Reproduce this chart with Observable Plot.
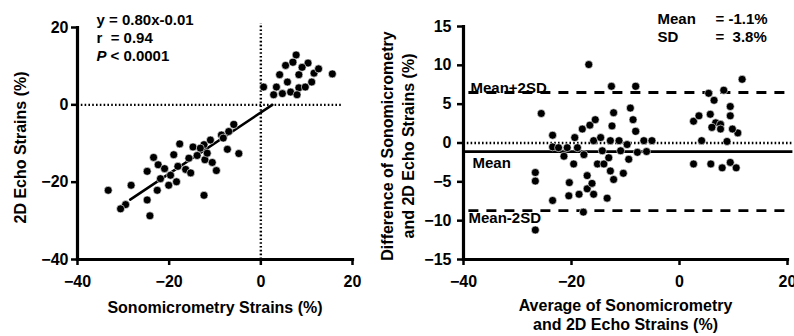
<!DOCTYPE html>
<html><head><meta charset="utf-8">
<script src="https://cdn.jsdelivr.net/npm/d3@7"></script>
<script src="https://cdn.jsdelivr.net/npm/@observablehq/plot@0.6"></script>
<style>
body{margin:0;background:#fff;}
#wrap{position:relative;display:flex;width:794px;height:336px;overflow:hidden;background:#fff;}
#wrap svg{flex:none;}
</style></head><body><div id="wrap"></div>
<script>
// ---- Left panel: 2D Echo vs Sonomicrometry ----
const sonoX = [-33.3,-28.3,-29.5,-24.8,-24.2,-23.4,-24.8,-22.4,-21.9,-22.6,-20.1,-19.7,-18.4,-19.0,-17.7,-18.1,-16.4,-15.3,-14.8,-15.7,-13.9,-12.4,-12.2,-11.0,-10.6,-9.7,-12.4,-8.6,-8.2,-7.3,-7.0,-5.9,-4.8,-11.7,-30.6,-13.2,-21.0,
  7.7,5.4,7.0,10.3,4.1,8.3,11.6,15.6,0.6,3.4,5.8,8.3,9.7,11.1,2.8,4.7,6.5,7.9,12.6,9.0];
const echoY = [-22.1,-20.8,-25.8,-24.6,-28.7,-13.6,-17.2,-15.5,-19.1,-22.1,-20.8,-18.2,-19.9,-12.9,-10.1,-15.9,-16.7,-17.6,-10.9,-13.8,-13.1,-10.3,-14.2,-9.1,-14.9,-17.0,-23.4,-7.8,-8.6,-11.5,-6.9,-5.1,-12.6,-12.5,-26.9,-11.2,-16.5,
  12.9,10.2,11.0,10.8,7.8,7.8,8.2,8.0,4.6,4.6,5.9,4.4,4.6,5.9,2.6,2.9,3.3,2.6,9.3,9.7];
const regX = [-28.5, 2.5];
const regY = [-24.5, 0];
const leftTicks = [-40, -20, 0, 20];
const leftStats = ["y = 0.80x-0.01", "r  = 0.94"];

// ---- Right panel: Bland-Altman ----
const avgX = [-16.8,-12.6,-8.1,11.6,8.2,6.4,5.4,-25.6,-23.5,-23.5,-26.7,-26.7,-26.7,-23.5,-17.8,-13.4,-20.4,-20.5,-18.6,-17.1,-15.9,-16.2,-17.1,-12.2,-10.4,-21.4,-20.8,-19.6,-18.9,-17.7,-18.0,-16.6,-15.6,-15.9,-14.6,-14.3,-15.2,-14.0,-12.8,-13.1,-12.8,-12.2,-12.5,-11.2,-10.9,-9.7,-9.1,-8.6,-8.1,-9.4,-7.8,-6.6,-6.1,-5.1,-19.4,-22.4,
  2.6,3.6,5.7,6.7,7.6,6.0,7.6,9.4,9.4,10.8,9.8,4.1,8.8,2.6,5.8,7.9,9.4,10.5];
const diffY = [10.1,7.3,7.3,8.2,6.8,5.5,6.4,3.8,1.0,-0.5,-3.8,-4.9,-11.2,-7.4,-8.9,-7.1,-5.1,-6.8,-6.6,-5.9,-6.6,-5.2,-4.2,-4.7,-3.9,-1.7,-0.6,-2.7,-0.6,-1.5,1.8,2.3,3.0,0.3,0.7,-1.0,-2.7,-2.7,0.3,-1.9,-3.6,3.9,2.2,0.3,-1.0,-0.2,4.5,3.0,1.5,-2.1,-1.2,0.3,-1.1,0.3,0.7,-0.6,
  2.8,3.5,3.7,2.6,2.4,2.0,1.8,4.7,3.5,1.3,1.8,0.3,0.2,-2.7,-2.7,-3.2,-2.5,-3.2];
const meanDiff = -1.1;
const sdDiff = 3.8;
const rightXTicks = [-40, -20, 0, 20];
const rightYTicks = [-15, -10, -5, 0, 5, 10, 15];
const refNames = ["Mean+2SD", "Mean", "Mean-2SD"];
const statNames = ["Mean", "SD"];
const statValues = ["= -1.1%", "=  3.8%"];

const FONT = "'Liberation Sans', Arial, sans-serif";
const baseStyle = `font-family:${FONT};font-weight:bold;font-size:15px;background:#fff;color:#000;overflow:visible;`;
const dotted = {strokeDasharray: "1.6,2.2", strokeWidth: 2.4, stroke: "#000"};
const dashed = {strokeDasharray: "10,8", strokeWidth: 2.8, stroke: "#000"};

const leftData = sonoX.map((x, i) => ({x, y: echoY[i]}));
const regData = regX.map((x, i) => ({x, y: regY[i]}));
const lx0 = leftTicks[0], lx1 = leftTicks[leftTicks.length - 1];
// axis segments (bottom and left) built from the tick arrays
const leftAxes = [
  {x1: lx0, y1: lx0, x2: lx1, y2: lx0},
  {x1: lx0, y1: lx0, x2: lx0, y2: lx1}
];

const left = Plot.plot({
  width: 380, height: 336,
  marginLeft: 77, marginRight: 28, marginTop: 27, marginBottom: 77,
  x: {domain: [lx0, lx1]},
  y: {domain: [lx0, lx1]},
  style: baseStyle,
  marks: [
    Plot.link(leftAxes, {x1: "x1", y1: "y1", x2: "x2", y2: "y2", stroke: "#000", strokeWidth: 3.2, strokeLinecap: "square"}),
    Plot.axisX({ticks: leftTicks, tickSize: 6, tickPadding: 10, strokeWidth: 2.5, label: null, fontSize: 16, fontWeight: "bold"}),
    Plot.axisY({ticks: leftTicks, tickSize: 6, tickPadding: 3, strokeWidth: 2.5, label: null, fontSize: 16, fontWeight: "bold"}),
    Plot.ruleX([0], {y1: -40, y2: 21, ...dotted}),
    Plot.ruleY([0], {x1: -40, x2: 18, ...dotted}),
    Plot.line(regData, {x: "x", y: "y", strokeWidth: 2.6, stroke: "#000"}),
    Plot.dot(leftData, {x: "x", y: "y", r: 4, fill: "#000", stroke: "#fff", strokeWidth: 0.6}),
    Plot.text(["Sonomicrometry Strains (%)"], {frameAnchor: "bottom", dy: 48, lineAnchor: "middle", fontSize: 16, fontWeight: "bold"}),
    Plot.text(["2D Echo Strains (%)"], {frameAnchor: "left", rotate: -90, dx: -57, dy: 4, textAnchor: "middle", lineAnchor: "middle", fontSize: 16, fontWeight: "bold"}),
    Plot.text([leftStats[0]], {frameAnchor: "top-left", dx: 19, dy: -7, textAnchor: "start", lineAnchor: "middle", fontSize: 15, fontWeight: "bold"}),
    Plot.text([leftStats[1]], {frameAnchor: "top-left", dx: 19, dy: 11, textAnchor: "start", lineAnchor: "middle", fontSize: 15, fontWeight: "bold"}),
    Plot.text(["P"], {frameAnchor: "top-left", dx: 19, dy: 29, textAnchor: "start", lineAnchor: "middle", fontSize: 15, fontWeight: "bold", fontStyle: "italic"}),
    Plot.text(["< 0.0001"], {frameAnchor: "top-left", dx: 33, dy: 29, textAnchor: "start", lineAnchor: "middle", fontSize: 15, fontWeight: "bold"})
  ]
});

const rightData = avgX.map((x, i) => ({x, y: diffY[i]}));
const upper = meanDiff + 2 * sdDiff;
const lower = meanDiff - 2 * sdDiff;
const refLabels = [
  {label: refNames[0], y: upper, dx: 7, dy: -4},
  {label: refNames[1], y: meanDiff, dx: 9, dy: 12},
  {label: refNames[2], y: lower, dx: 5, dy: 8}
];
const rx0 = rightXTicks[0], rx1 = rightXTicks[rightXTicks.length - 1];
const ry0 = rightYTicks[0], ry1 = rightYTicks[rightYTicks.length - 1];
const rightAxes = [
  {x1: rx0, y1: ry0, x2: rx1, y2: ry0},
  {x1: rx0, y1: ry0, x2: rx0, y2: ry1}
];

const right = Plot.plot({
  width: 414, height: 336,
  marginLeft: 83, marginRight: 7, marginTop: 26, marginBottom: 77,
  x: {domain: [rx0, rx1]},
  y: {domain: [ry0, ry1]},
  style: baseStyle,
  marks: [
    Plot.link(rightAxes, {x1: "x1", y1: "y1", x2: "x2", y2: "y2", stroke: "#000", strokeWidth: 3.2, strokeLinecap: "square"}),
    Plot.axisX({ticks: rightXTicks, tickSize: 6, tickPadding: 10, strokeWidth: 2.5, label: null, fontSize: 16, fontWeight: "bold"}),
    Plot.axisY({ticks: rightYTicks, tickSize: 6, tickPadding: 6, strokeWidth: 2.5, label: null, fontSize: 16, fontWeight: "bold"}),
    Plot.ruleY([0], {x1: -40, x2: 21, ...dotted}),
    Plot.ruleY([meanDiff], {x1: -40, x2: 21, strokeWidth: 2.8, stroke: "#000"}),
    Plot.ruleY([upper, lower], {x1: -39, x2: 21, ...dashed}),
    Plot.dot(rightData, {x: "x", y: "y", r: 4, fill: "#000", stroke: "#fff", strokeWidth: 0.6}),
    ...refLabels.map(d => Plot.text([d], {y: "y", text: "label", frameAnchor: "left", dx: d.dx, dy: d.dy, textAnchor: "start", lineAnchor: "middle", fontSize: 15, fontWeight: "bold"})),
    Plot.text([statNames[0]], {frameAnchor: "top-left", dx: 194, dy: -7, textAnchor: "start", lineAnchor: "middle", fontSize: 15, fontWeight: "bold"}),
    Plot.text([statNames[1]], {frameAnchor: "top-left", dx: 194, dy: 11, textAnchor: "start", lineAnchor: "middle", fontSize: 15, fontWeight: "bold"}),
    Plot.text([statValues[0]], {frameAnchor: "top-left", dx: 252, dy: -7, textAnchor: "start", lineAnchor: "middle", fontSize: 15, fontWeight: "bold"}),
    Plot.text([statValues[1]], {frameAnchor: "top-left", dx: 252, dy: 11, textAnchor: "start", lineAnchor: "middle", fontSize: 15, fontWeight: "bold"}),
    Plot.text(["Average of Sonomicrometry\nand 2D Echo Strains (%)"], {frameAnchor: "bottom", dy: 55, lineAnchor: "middle", lineHeight: 1.2, fontSize: 16, fontWeight: "bold"}),
    Plot.text(["Difference of Sonomicrometry\nand 2D Echo Strains (%)"], {frameAnchor: "left", rotate: -90, dx: -67, dy: 3, textAnchor: "middle", lineAnchor: "middle", lineHeight: 1.3, fontSize: 16, fontWeight: "bold"})
  ]
});

document.getElementById("wrap").append(left, right);
</script>
</body></html>
